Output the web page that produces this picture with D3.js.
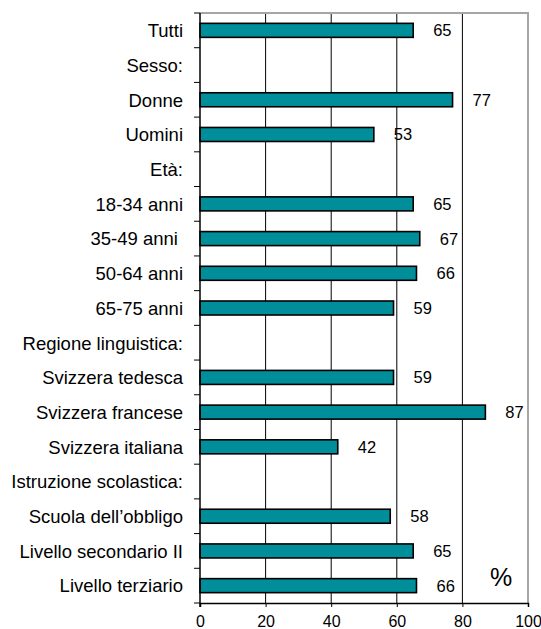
<!DOCTYPE html>
<html>
<head>
<meta charset="utf-8">
<script src="https://cdn.jsdelivr.net/npm/d3@7"></script>
<style>
  body { margin: 0; background: #fff; }
  text { font-family: "Liberation Sans", Arial, sans-serif; fill: #000; }
</style>
</head>
<body>
<div id="chart"></div>
<script>
// categories top to bottom; group headings have no value
var categories = ["Tutti", "Sesso:", "Donne", "Uomini", "Età:", "18-34 anni", "35-49 anni ",
  "50-64 anni", "65-75 anni", "Regione linguistica:", "Svizzera tedesca", "Svizzera francese",
  "Svizzera italiana", "Istruzione scolastica:", "Scuola dell\u2019obbligo",
  "Livello secondario II", "Livello terziario"];
var values = [65, null, 77, 53, null, 65, 67, 66, 59, null, 59, 87, 42, null, 58, 65, 66];
var xTicks = [0, 20, 40, 60, 80, 100];
var unitLabel = "%";

var w = 541, h = 629;
var plotLeft = 200, plotTop = 13, plotRight = 528, plotBottom = 603;
var barH = 14;

var svg = d3.select("#chart").append("svg")
  .attr("width", w)
  .attr("height", h);

var x = d3.scaleLinear().domain([0, 100]).range([plotLeft, plotRight]);
var y = d3.scaleBand().domain(categories).range([plotTop, plotBottom]);

// vertical gridlines
svg.append("g")
  .selectAll("line")
  .data(xTicks.filter(function(d){ return d > 0 && d < 100; }))
  .enter().append("line")
  .attr("x1", function(d){ return x(d); })
  .attr("x2", function(d){ return x(d); })
  .attr("y1", plotTop)
  .attr("y2", plotBottom)
  .attr("stroke", "#000")
  .attr("stroke-width", 1);

// gray frame top and right
svg.append("path")
  .attr("d", "M" + plotLeft + "," + plotTop + "H" + x(100) + "V" + plotBottom)
  .attr("fill", "none")
  .attr("stroke", "#a6a6a6")
  .attr("stroke-width", 2);

var rows = categories.map(function(c, i){ return {cat: c, val: values[i]}; });

// bars
svg.append("g")
  .selectAll("rect")
  .data(rows.filter(function(d){ return d.val != null; }))
  .enter().append("rect")
  .attr("x", x(0))
  .attr("y", function(d){ return y(d.cat) + (y.bandwidth() - barH) / 2; })
  .attr("width", function(d){ return x(d.val) - x(0); })
  .attr("height", barH)
  .attr("fill", "#008e9b")
  .attr("stroke", "#000")
  .attr("stroke-width", 1.6);

// value labels
svg.append("g")
  .selectAll("text")
  .data(rows.filter(function(d){ return d.val != null; }))
  .enter().append("text")
  .attr("x", function(d){ return x(d.val) + 20; })
  .attr("y", function(d){ return y(d.cat) + y.bandwidth() / 2; })
  .attr("dy", "0.36em")
  .style("font-size", "16.5px")
  .text(function(d){ return d.val; });

// y axis: ticks at category boundaries
var yAxis = svg.append("g");
yAxis.append("line")
  .attr("x1", plotLeft).attr("x2", plotLeft)
  .attr("y1", plotTop).attr("y2", plotBottom + 4)
  .attr("stroke", "#000").attr("stroke-width", 1.5);
yAxis.selectAll("line.tick")
  .data(d3.range(categories.length + 1))
  .enter().append("line")
  .attr("class", "tick")
  .attr("x1", plotLeft - 6).attr("x2", plotLeft)
  .attr("y1", function(i){ return plotTop + i * y.bandwidth(); })
  .attr("y2", function(i){ return plotTop + i * y.bandwidth(); })
  .attr("stroke", "#000").attr("stroke-width", 1);
yAxis.selectAll("text")
  .data(categories)
  .enter().append("text")
  .attr("x", plotLeft - 17)
  .attr("y", function(d){ return y(d) + y.bandwidth() / 2; })
  .attr("dy", "0.37em")
  .attr("text-anchor", "end")
  .attr("xml:space", "preserve")
  .style("white-space", "pre")
  .style("font-size", "18.5px")
  .text(function(d){ return d; });

// x axis
var xAxis = svg.append("g")
  .attr("transform", "translate(0," + plotBottom + ")")
  .call(d3.axisBottom(x).tickValues(xTicks).tickSize(4).tickPadding(9));
xAxis.select(".domain").attr("stroke", "#000").attr("stroke-width", 1.5);
xAxis.selectAll(".tick line").attr("stroke", "#000");
xAxis.selectAll(".tick text")
  .style("font-family", "'Liberation Sans', Arial, sans-serif")
  .style("font-size", "16px")
  .attr("fill", "#000");

svg.append("text")
  .attr("x", 490)
  .attr("y", 586)
  .style("font-size", "25px")
  .text(unitLabel);
</script>
</body>
</html>
